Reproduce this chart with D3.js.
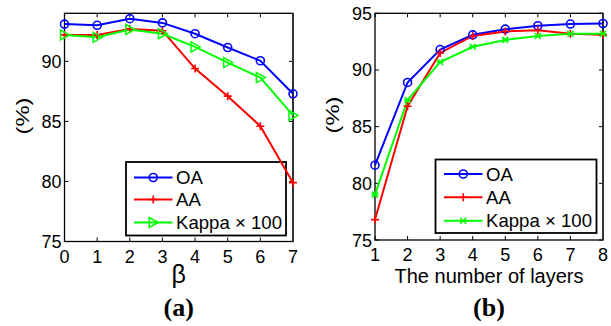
<!DOCTYPE html>
<html><head><meta charset="utf-8">
<script src="https://cdn.jsdelivr.net/npm/d3@7"></script>
<style>body{margin:0;background:#fff}svg{display:block}text{font-family:"Liberation Sans",Arial,sans-serif}</style>
</head><body><svg id="c" width="611" height="326"></svg>
<script>
const betaX = [0,1,2,3,4,5,6,7];
const betaOA = [93.1, 93.0, 93.55, 93.2, 92.3, 91.15, 90.05, 87.3];
const betaAA = [92.2, 92.2, 92.7, 92.55, 89.4, 87.1, 84.6, 79.9];
const betaKappa = [92.2, 92.0, 92.65, 92.3, 91.2, 89.9, 88.65, 85.5];
const betaYTicks = [75,80,85,90];

const layerX = [1,2,3,4,5,6,7,8];
const layerOA = [81.6, 88.9, 91.8, 93.1, 93.6, 93.9, 94.05, 94.1];
const layerAA = [76.8, 86.8, 91.5, 93.0, 93.4, 93.5, 93.2, 93.1];
const layerKappa = [79.0, 87.35, 90.7, 92.05, 92.65, 93.0, 93.2, 93.2];
const layerYTicks = [75,80,85,90,95];

const legendLabels = ["OA","AA","Kappa \u00d7 100"];
const colors = ["#0000ff","#ff0000","#00ff00"];

const svg = d3.select("#c");

function marker(g, type, x, y, color){
  if(type==="o"){
    g.append("circle").attr("cx",x).attr("cy",y).attr("r",4).attr("fill","none").attr("stroke",color).attr("stroke-width",1.6);
  } else if(type==="+"){
    g.append("path").attr("d",`M${x-4},${y}H${x+4}M${x},${y-4}V${y+4}`).attr("stroke",color).attr("stroke-width",1.6).attr("fill","none");
  } else if(type===">"){
    g.append("path").attr("d",`M${x-4},${y-5}L${x+5},${y}L${x-4},${y+5}Z`).attr("stroke",color).attr("stroke-width",1.5).attr("fill","none");
  } else if(type==="x"){
    g.append("path").attr("d",`M${x-3},${y-3}L${x+3},${y+3}M${x-3},${y+3}L${x+3},${y-3}M${x-3.5},${y}H${x+3.5}`).attr("stroke",color).attr("stroke-width",1.6).attr("fill","none");
  }
}

function panel(o){
  const g = svg.append("g");
  const x = d3.scaleLinear().domain(o.xd).range([o.x0,o.x1]);
  const y = d3.scaleLinear().domain(o.yd).range([o.y1,o.y0]);
  const tl = 4;
  const ax = g.append("g");
  o.xt.forEach(t=>{
    ax.append("line").attr("x1",x(t)).attr("x2",x(t)).attr("y1",o.y1).attr("y2",o.y1-tl).attr("stroke","#000");
    ax.append("line").attr("x1",x(t)).attr("x2",x(t)).attr("y1",o.y0).attr("y2",o.y0+tl).attr("stroke","#000");
    ax.append("text").attr("x",x(t)).attr("y",o.y1+21).attr("text-anchor","middle").attr("font-size",18).text(t);
  });
  o.yt.forEach(t=>{
    ax.append("line").attr("x1",o.x0).attr("x2",o.x0+tl).attr("y1",y(t)).attr("y2",y(t)).attr("stroke","#000");
    ax.append("line").attr("x1",o.x1).attr("x2",o.x1-tl).attr("y1",y(t)).attr("y2",y(t)).attr("stroke","#000");
    ax.append("text").attr("x",o.x0-3).attr("y",y(t)+6.5).attr("text-anchor","end").attr("font-size",18).text(t);
  });
  g.append("rect").attr("x",o.x0).attr("y",o.y0).attr("width",o.x1-o.x0).attr("height",o.y1-o.y0)
    .attr("fill","none").attr("stroke","#000").attr("stroke-width",1.3);
  g.append("line").attr("x1",o.x1).attr("x2",o.x1).attr("y1",o.y0).attr("y2",o.y1).attr("stroke","#333").attr("stroke-width",2);

  const lg = g.append("g");
  lg.append("rect").attr("x",o.lx0).attr("y",o.ly0).attr("width",o.lx1-o.lx0).attr("height",o.ly1-o.ly0)
    .attr("fill","#fff").attr("stroke","#000").attr("stroke-width",1.8);
  o.series.forEach((s,i)=>{
    const yy = o.ly[i];
    lg.append("line").attr("x1",o.lline[0]).attr("x2",o.lline[1]).attr("y1",yy).attr("y2",yy).attr("stroke",colors[i]).attr("stroke-width",2);
    marker(lg, o.markers[i], (o.lline[0]+o.lline[1])/2, yy, colors[i]);
    lg.append("text").attr("x",o.lline[1]+3.5).attr("y",yy+6.7).attr("font-size",18.6).text(legendLabels[i]);
  });

  const line = d3.line().x((d,i)=>x(o.xs[i])).y(d=>y(d));
  o.series.forEach((s,i)=>{
    g.append("path").attr("d",line(s)).attr("fill","none").attr("stroke",colors[i]).attr("stroke-width",2);
  });
  o.series.forEach((s,i)=>{
    s.forEach((v,j)=>marker(g,o.markers[i],x(o.xs[j]),y(v),colors[i]));
  });

  g.append("text").attr("transform",`translate(${o.ylx},${o.yly}) rotate(-90)`).attr("text-anchor","middle")
    .attr("font-size",19).attr("textLength",37).attr("lengthAdjust","spacingAndGlyphs").text("(%)");
  g.append("text").attr("x",(o.x0+o.x1)/2).attr("y",o.xly).attr("text-anchor","middle").attr("font-size",o.xlfs).text(o.xlabel);
  g.append("text").attr("x",(o.x0+o.x1)/2).attr("y",316).attr("text-anchor","middle").attr("font-size",26)
    .attr("font-weight","bold").style("font-family","'Liberation Serif','Times New Roman',serif").text(o.title);
}

panel({x0:64.5,x1:293,y0:13.3,y1:241.5,xd:[0,7],yd:[75,94],xt:betaX,yt:betaYTicks,xs:betaX,
  series:[betaOA,betaAA,betaKappa],markers:["o","+",">"],
  lx0:126,lx1:286,ly0:162,ly1:235.5,ly:[177.5,199.5,222.5],lline:[134,172.5],
  ylx:29,yly:116,xlabel:"\u03b2",xly:283,xlfs:25,title:"(a)"});

panel({x0:375,x1:603,y0:13.3,y1:240,xd:[1,8],yd:[75,95],xt:layerX,yt:layerYTicks,xs:layerX,
  series:[layerOA,layerAA,layerKappa],markers:["o","+","x"],
  lx0:435.5,lx1:596.5,ly0:159.5,ly1:233,ly:[174,197.3,220.7],lline:[444,482.5],
  ylx:339,yly:115,xlabel:"The number of layers",xly:283,xlfs:20,title:"(b)"});
</script></body></html>
